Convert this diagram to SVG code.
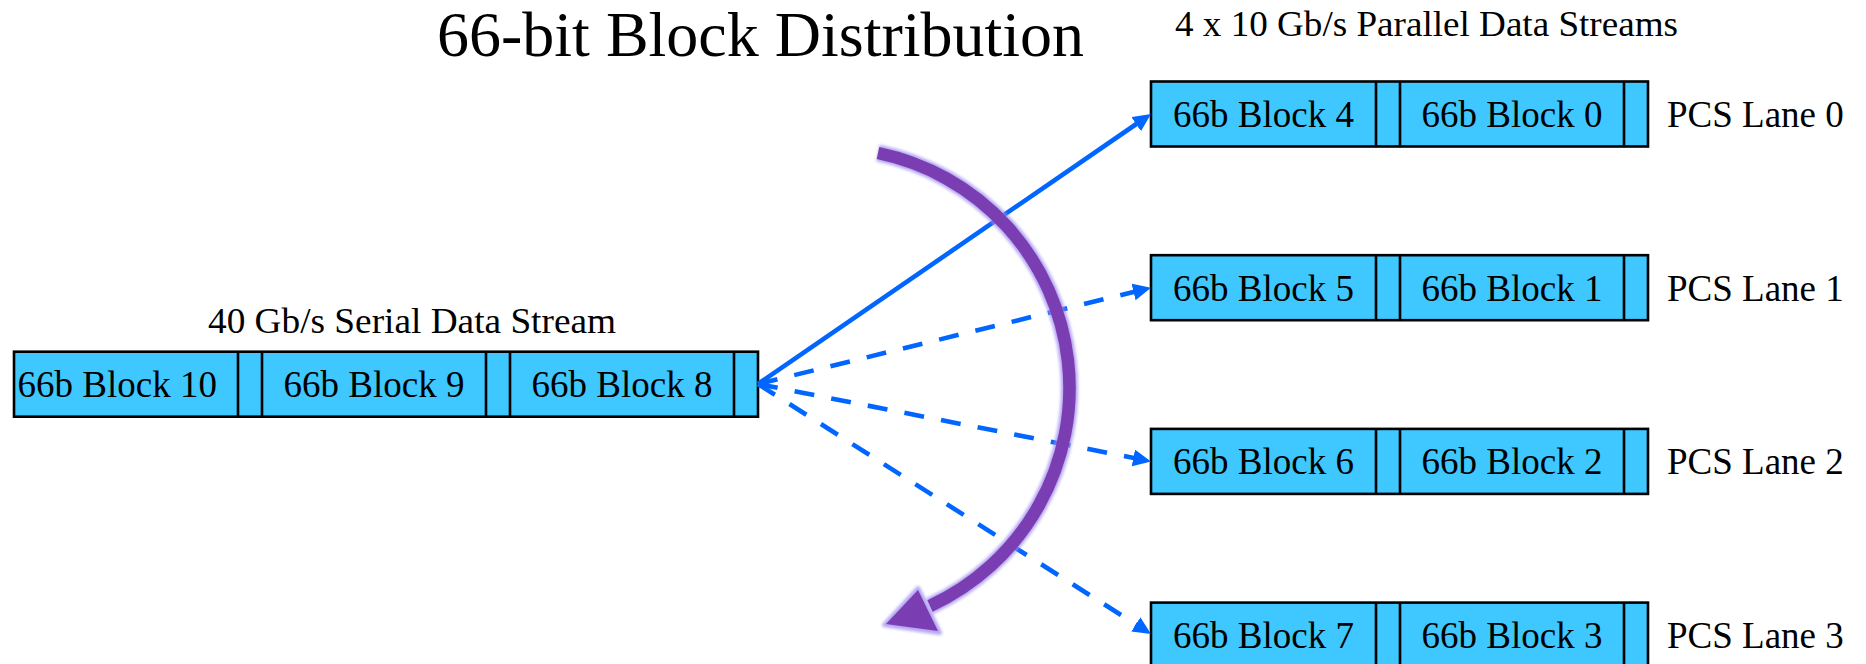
<svg xmlns="http://www.w3.org/2000/svg" width="1866" height="664" viewBox="0 0 1866 664">
  <style>
    text { font-family: "Liberation Serif", "Times New Roman", serif; fill: #000; }
    .blk { fill: #3ec8ff; stroke: #000; stroke-width: 2.6; }
    .div { stroke: #000; stroke-width: 2.6; }
    .lbl { font-size: 37px; text-anchor: middle; }
    .lane { font-size: 37px; }
    .link { fill: none; stroke: #0066ff; stroke-width: 4.6; }
    .dash { stroke-dasharray: 20 17.3; }
  </style>
  <defs>
    <marker id="head" markerUnits="userSpaceOnUse" markerWidth="20" markerHeight="18" viewBox="0 0 20 18" refX="2" refY="8.5" orient="auto">
      <path d="M0,0 L18,8.5 L0,17 Z" fill="#0066ff"/>
    </marker>
    <filter id="soft" x="-10%" y="-10%" width="120%" height="120%">
      <feGaussianBlur stdDeviation="1.4"/>
    </filter>
  </defs>

  <!-- headings -->
  <text x="437" y="56" font-size="64">66-bit Block Distribution</text>
  <text x="1175" y="36" font-size="35" textLength="503" lengthAdjust="spacingAndGlyphs">4 x 10 Gb/s Parallel Data Streams</text>
  <text x="208" y="333" font-size="35" textLength="408" lengthAdjust="spacingAndGlyphs">40 Gb/s Serial Data Stream</text>

  <!-- 40 Gb/s serial stream -->
  <g id="serial-stream">
    <rect class="blk" x="14" y="351.7" width="744" height="65"/>
    <line class="div" x1="238" y1="351.7" x2="238" y2="416.7"/>
    <line class="div" x1="262" y1="351.7" x2="262" y2="416.7"/>
    <line class="div" x1="486" y1="351.7" x2="486" y2="416.7"/>
    <line class="div" x1="510" y1="351.7" x2="510" y2="416.7"/>
    <line class="div" x1="734" y1="351.7" x2="734" y2="416.7"/>
    <text x="17.5" y="397.3" font-size="37">66b Block 10</text>
    <text class="lbl" x="374" y="397.3">66b Block 9</text>
    <text class="lbl" x="622" y="397.3">66b Block 8</text>
  </g>

  <!-- PCS lanes -->
  <g id="lane-0">
    <rect class="blk" x="1151" y="81.5" width="497" height="65"/>
    <line class="div" x1="1376" y1="81.5" x2="1376" y2="146.5"/>
    <line class="div" x1="1400" y1="81.5" x2="1400" y2="146.5"/>
    <line class="div" x1="1624" y1="81.5" x2="1624" y2="146.5"/>
    <text class="lbl" x="1263.5" y="127">66b Block 4</text>
    <text class="lbl" x="1512" y="127">66b Block 0</text>
    <text class="lane" x="1667" y="127">PCS Lane 0</text>
  </g>
  <g id="lane-1">
    <rect class="blk" x="1151" y="255.2" width="497" height="65"/>
    <line class="div" x1="1376" y1="255.2" x2="1376" y2="320.2"/>
    <line class="div" x1="1400" y1="255.2" x2="1400" y2="320.2"/>
    <line class="div" x1="1624" y1="255.2" x2="1624" y2="320.2"/>
    <text class="lbl" x="1263.5" y="300.7">66b Block 5</text>
    <text class="lbl" x="1512" y="300.7">66b Block 1</text>
    <text class="lane" x="1667" y="300.7">PCS Lane 1</text>
  </g>
  <g id="lane-2">
    <rect class="blk" x="1151" y="428.9" width="497" height="65"/>
    <line class="div" x1="1376" y1="428.9" x2="1376" y2="493.9"/>
    <line class="div" x1="1400" y1="428.9" x2="1400" y2="493.9"/>
    <line class="div" x1="1624" y1="428.9" x2="1624" y2="493.9"/>
    <text class="lbl" x="1263.5" y="474.4">66b Block 6</text>
    <text class="lbl" x="1512" y="474.4">66b Block 2</text>
    <text class="lane" x="1667" y="474.4">PCS Lane 2</text>
  </g>
  <g id="lane-3">
    <rect class="blk" x="1151" y="602.6" width="497" height="65"/>
    <line class="div" x1="1376" y1="602.6" x2="1376" y2="667.6"/>
    <line class="div" x1="1400" y1="602.6" x2="1400" y2="667.6"/>
    <line class="div" x1="1624" y1="602.6" x2="1624" y2="667.6"/>
    <text class="lbl" x="1263.5" y="648.1">66b Block 7</text>
    <text class="lbl" x="1512" y="648.1">66b Block 3</text>
    <text class="lane" x="1667" y="648.1">PCS Lane 3</text>
  </g>

  <!-- block distribution links -->
  <g id="connectors">
    <path class="link" d="M758,384 L1137.8,123" marker-end="url(#head)"/>
    <path class="link dash" d="M758,384 L1135.5,291.5" marker-end="url(#head)"/>
    <path class="link dash" d="M758,384 L1135.3,458.3" marker-end="url(#head)"/>
    <path class="link dash" d="M758,384 L1137.5,625.5" marker-end="url(#head)"/>
  </g>

  <!-- round-robin rotation arrow -->
  <g id="rotation">
    <g filter="url(#soft)" opacity="0.75">
      <path d="M878,153 A240,240 0 0 1 930,606" fill="none" stroke="#9c88f0" stroke-width="17"/>
      <polygon points="884,625 918,588 940,633" fill="#9c88f0" stroke="#9c88f0" stroke-width="4" stroke-linejoin="round"/>
    </g>
    <path d="M878,153 A240,240 0 0 1 930,606" fill="none" stroke="#7a3db2" stroke-width="12.5"/>
    <polygon points="886,624 918,590 938,631" fill="#7a3db2"/>
  </g>
</svg>
